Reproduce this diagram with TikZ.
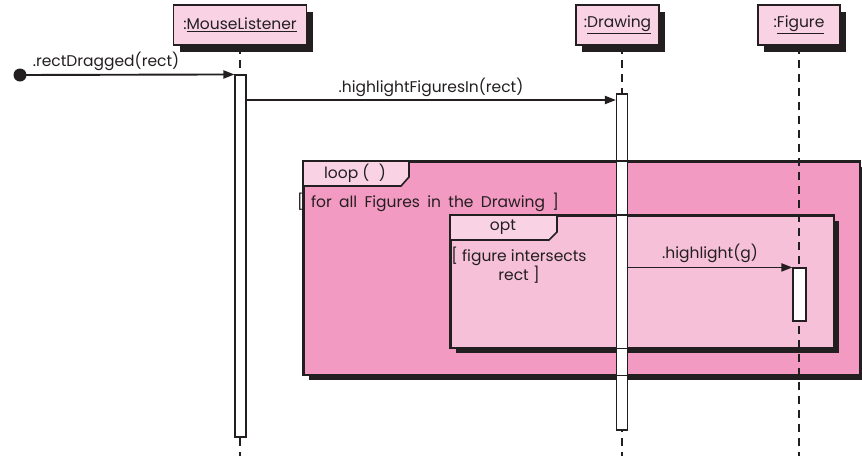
\documentclass[tikz,border=0pt]{standalone}
\usepackage{fontspec}
\setmainfont{Poppins}
\usetikzlibrary{arrows.meta,shadows}
\definecolor{hdr}{RGB}{249,211,228}
\definecolor{loopc}{RGB}{242,154,193}
\definecolor{optc}{RGB}{246,192,216}
\definecolor{ink}{RGB}{35,31,32}
\begin{document}
\begin{tikzpicture}[x=1pt,y=-1pt,
  font=\fontsize{15.5}{19}\selectfont,
  every node/.style={text=ink},
  obj/.style={draw=ink,line width=1.6pt,fill=hdr,inner sep=0pt,minimum height=40pt,
    drop shadow={shadow xshift=6pt,shadow yshift=-7pt,fill=ink,opacity=1}},
  lifeline/.style={draw=ink,line width=1.3pt,dash pattern=on 8pt off 6pt},
  actbar/.style={draw=ink,line width=1.1pt,fill=white,inner sep=0pt,minimum width=11pt},
  framebox/.style={draw=ink,line width=1.6pt,inner sep=0pt,anchor=north west},
  fshadow/.style={fill=ink,draw=none},
  tab/.style={draw=ink,line width=1.6pt,fill=hdr},
  msg/.style={draw=ink,line width=1.9pt,-{Triangle[length=11pt,width=8pt]}},
  lbl/.style={inner sep=0pt}]
\useasboundingbox (0,0) rectangle (862,456);

% objects
\node[obj,minimum width=133pt] (ml) at (240,25) {:\underline{MouseListener}};
\node[obj,minimum width=83pt] (dr) at (617.5,25) {:\underline{Drawing}};
\node[obj,minimum width=82pt] (fig) at (799,25) {:\underline{Figure}};

\coordinate (mlend) at (240,456);
\coordinate (drend) at (622,456);
\coordinate (figend) at (799,456);

% loop frame
\fill[fshadow] (309,167) rectangle (865,380);
\node[framebox,fill=loopc,minimum width=556pt,minimum height=213pt] (loop) at (303,161) {};
\draw[tab] (303,161) -- (409,161) -- (409,177) -- (401,186) -- (303,186) -- cycle;
\node[lbl] (looplbl) at (355,173) {loop (\hspace{0.6em})};
\node[lbl,anchor=west] (loopguard) at (297,202) {\spaceskip=7.3pt plus 1pt[ for all Figures in the Drawing ]};

% opt frame
\fill[fshadow] (456,221) rectangle (839,353);
\node[framebox,fill=optc,minimum width=383pt,minimum height=132pt] (opt) at (450,215) {};
\draw[tab] (450,215) -- (557,215) -- (557,232) -- (549,240) -- (450,240) -- cycle;
\node[lbl] (optlbl) at (503,227) {opt};
\node[lbl,align=center] (optguard) at (519,265) {[ figure intersects\\rect ]};

% lifelines
\draw[lifeline] (ml.south) -- (mlend);
\draw[lifeline] (dr.south -| drend) -- (drend);
\draw[lifeline] (fig.south) -- (figend);

% activation bars
\node[actbar,minimum height=362pt] (mlbar) at (240.5,256) {};
\node[actbar,minimum height=336pt] (drbar) at (622,262) {};
\node[actbar,minimum width=13pt,minimum height=53pt] (figbar) at (799.5,294.5) {};

% frame borders over the bar
\draw[ink,line width=1.6pt] (loop.north west) rectangle (loop.south east);
\draw[ink,line width=1.6pt] (opt.north west) rectangle (opt.south east);

% messages
\node[circle,fill=ink,minimum size=13pt,inner sep=0pt] (start) at (20,75) {};
\draw[msg] (start.center) -- (mlbar.north west);
\node[lbl] (m1) at (106,61) {.rectDragged(rect)};

\draw[msg] (mlbar.east |- 0,100) -- (drbar.west |- 0,100);
\node[lbl] (m2) at (431,87) {.highlightFiguresIn(rect)};

\draw[msg] (drbar.east |- figbar.north) -- (figbar.north west);
\node[lbl] (m3) at (710,253) {.highlight(g)};
\end{tikzpicture}
\end{document}
